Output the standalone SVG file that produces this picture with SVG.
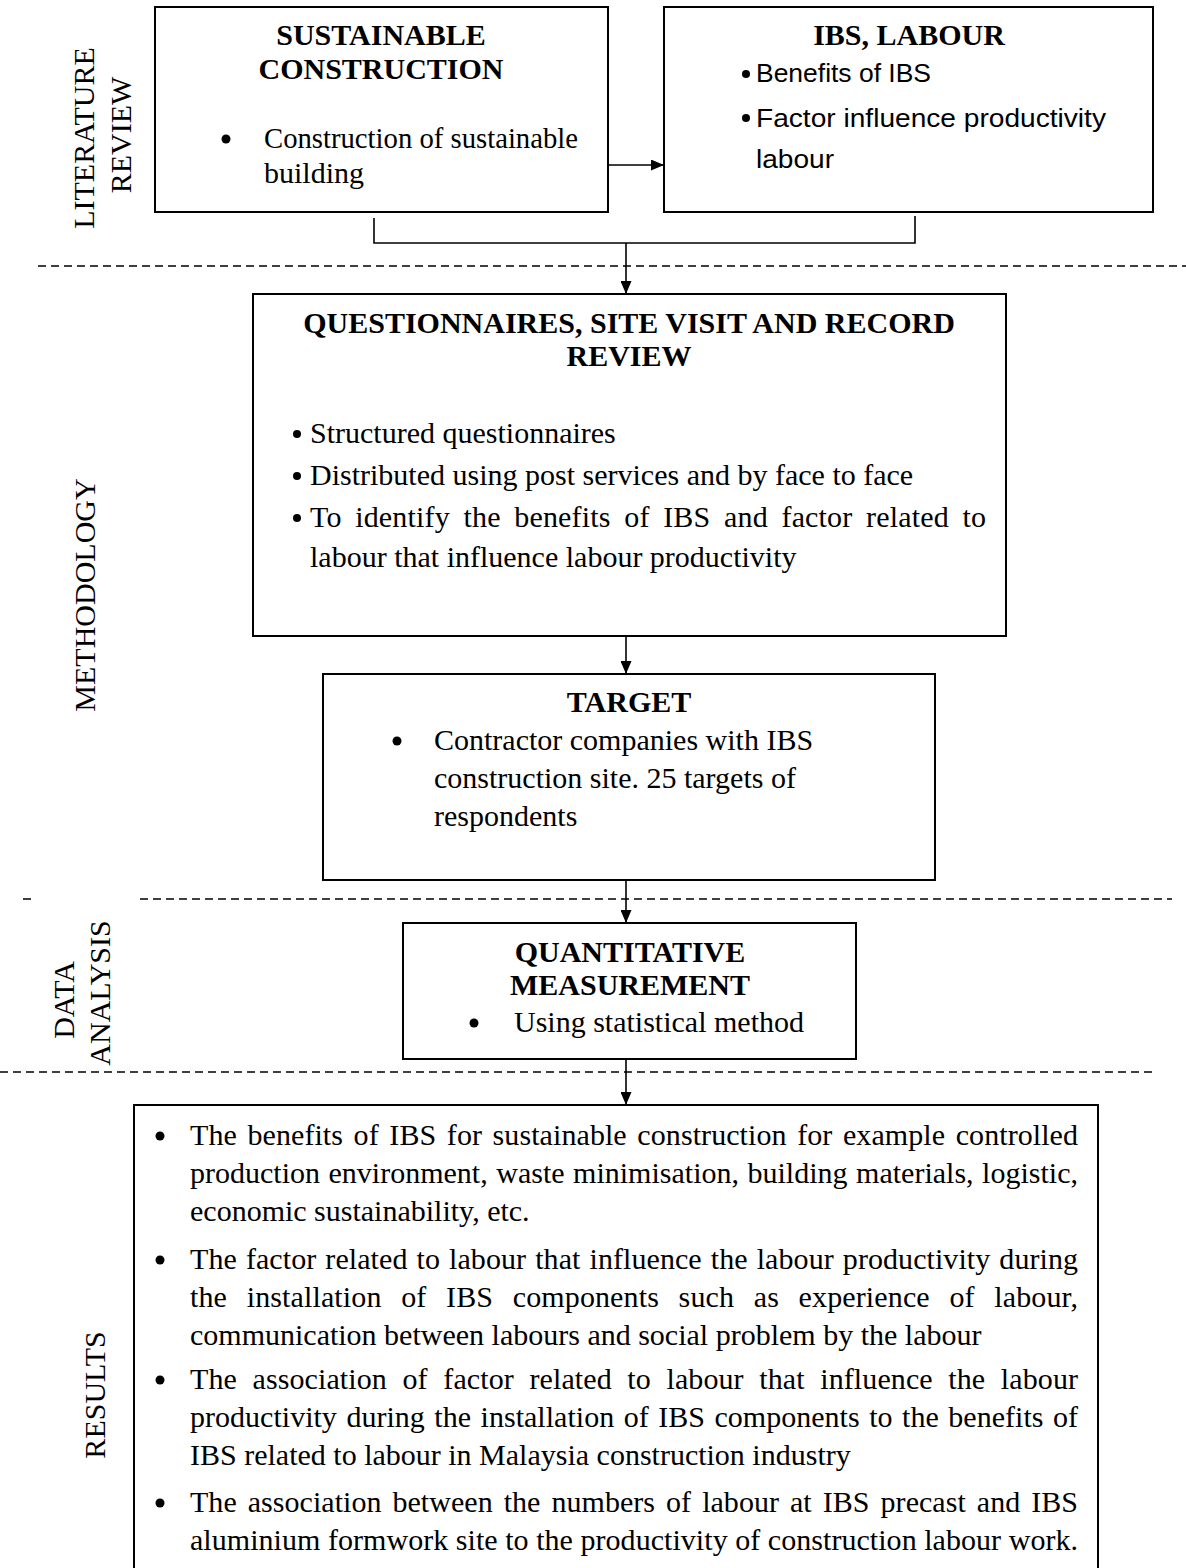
<svg xmlns="http://www.w3.org/2000/svg" width="1186" height="1568" viewBox="0 0 1186 1568">
<defs>
<style>
.box{fill:#fff;stroke:#000;stroke-width:2}
.t{font-family:"Liberation Serif","Times New Roman",serif;font-size:30px;fill:#000}
.b{font-weight:bold}
.s{font-family:"Liberation Sans",Arial,sans-serif;font-size:26px;fill:#000}
.m{text-anchor:middle}
.line{fill:none;stroke:#000;stroke-width:1.6}
.dash{fill:none;stroke:#000;stroke-width:1.5;stroke-dasharray:8 5}
.dot{fill:#000}
</style>
<marker id="ah" markerWidth="13" markerHeight="11" refX="13" refY="5.5" orient="auto" markerUnits="userSpaceOnUse">
<path d="M0,0 L13,5.5 L0,11 Z" fill="#000"/>
</marker>
</defs>
<rect width="1186" height="1568" fill="#fff"/>

<g id="section-labels">
<text class="t m" transform="translate(94,138) rotate(-90)">LITERATURE</text>
<text class="t m" transform="translate(131,135) rotate(-90)">REVIEW</text>
<text class="t m" transform="translate(95,595) rotate(-90)">METHODOLOGY</text>
<text class="t m" transform="translate(74,1000) rotate(-90)">DATA</text>
<text class="t m" transform="translate(110,993) rotate(-90)">ANALYSIS</text>
<text class="t m" transform="translate(105,1395) rotate(-90)">RESULTS</text>
</g>

<g id="dividers">
<line class="dash" x1="38" y1="266" x2="1186" y2="266"/>
<line class="dash" x1="23" y1="899" x2="31" y2="899"/>
<line class="dash" x1="140" y1="899" x2="1172" y2="899"/>
<line class="dash" x1="0" y1="1072" x2="1154" y2="1072"/>
</g>

<g id="node-sustainable">
<rect class="box" x="155" y="7" width="453" height="205"/>
<text class="t b m" x="381" y="45">SUSTAINABLE</text>
<text class="t b m" x="381" y="79">CONSTRUCTION</text>
<circle class="dot" cx="226" cy="139" r="4.5"/>
<text class="t" x="264" y="148" textLength="314" lengthAdjust="spacingAndGlyphs">Construction of sustainable</text>
<text class="t" x="264" y="183">building</text>
</g>

<g id="node-ibs-labour">
<rect class="box" x="664" y="7" width="489" height="205"/>
<text class="t b m" x="909" y="45">IBS, LABOUR</text>
<circle class="dot" cx="746" cy="74" r="4"/>
<text class="s" x="756" y="82" textLength="175" lengthAdjust="spacingAndGlyphs">Benefits of IBS</text>
<circle class="dot" cx="746" cy="118" r="4"/>
<text class="s" x="756" y="127" textLength="350" lengthAdjust="spacingAndGlyphs">Factor influence productivity</text>
<text class="s" x="756" y="168" textLength="78" lengthAdjust="spacingAndGlyphs">labour</text>
</g>

<g id="node-questionnaires">
<rect class="box" x="253" y="294" width="753" height="342"/>
<text class="t b m" x="629" y="333">QUESTIONNAIRES, SITE VISIT AND RECORD</text>
<text class="t b m" x="629" y="366">REVIEW</text>
<circle class="dot" cx="297" cy="434" r="4"/>
<text class="t" x="310" y="443">Structured questionnaires</text>
<circle class="dot" cx="297" cy="476" r="4"/>
<text class="t" x="310" y="485">Distributed using post services and by face to face</text>
<circle class="dot" cx="297" cy="518" r="4"/>
<text class="t" x="310" y="527" word-spacing="6" textLength="676" lengthAdjust="spacing">To identify the benefits of IBS and factor related to</text>
<text class="t" x="310" y="567">labour that influence labour productivity</text>
</g>

<g id="node-target">
<rect class="box" x="323" y="674" width="612" height="206"/>
<text class="t b m" x="629" y="712">TARGET</text>
<circle class="dot" cx="397" cy="741" r="4.5"/>
<text class="t" x="434" y="750">Contractor companies with IBS</text>
<text class="t" x="434" y="788">construction site. 25 targets of</text>
<text class="t" x="434" y="826">respondents</text>
</g>

<g id="node-quantitative">
<rect class="box" x="403" y="923" width="453" height="136"/>
<text class="t b m" x="630" y="962">QUANTITATIVE</text>
<text class="t b m" x="630" y="995">MEASUREMENT</text>
<circle class="dot" cx="474" cy="1023" r="4.5"/>
<text class="t" x="514" y="1032">Using statistical method</text>
</g>

<g id="node-results">
<path class="box" d="M134,1575 V1105 H1098 V1575"/>
<circle class="dot" cx="160" cy="1136" r="4.5"/>
<text class="t" x="190" y="1145" word-spacing="3" textLength="888" lengthAdjust="spacing">The benefits of IBS for sustainable construction for example controlled</text>
<text class="t" x="190" y="1183" word-spacing="1" textLength="888" lengthAdjust="spacing">production environment, waste minimisation, building materials, logistic,</text>
<text class="t" x="190" y="1221">economic sustainability, etc.</text>
<circle class="dot" cx="160" cy="1260" r="4.5"/>
<text class="t" x="190" y="1269" word-spacing="1.5" textLength="888" lengthAdjust="spacing">The factor related to labour that influence the labour productivity during</text>
<text class="t" x="190" y="1307" word-spacing="12" textLength="888" lengthAdjust="spacing">the installation of IBS components such as experience of labour,</text>
<text class="t" x="190" y="1345">communication between labours and social problem by the labour</text>
<circle class="dot" cx="160" cy="1380" r="4.5"/>
<text class="t" x="190" y="1389" word-spacing="8" textLength="888" lengthAdjust="spacing">The association of factor related to labour that influence the labour</text>
<text class="t" x="190" y="1427" word-spacing="2" textLength="888" lengthAdjust="spacing">productivity during the installation of IBS components to the benefits of</text>
<text class="t" x="190" y="1465">IBS related to labour in Malaysia construction industry</text>
<circle class="dot" cx="160" cy="1503" r="4.5"/>
<text class="t" x="190" y="1512" word-spacing="3.5" textLength="888" lengthAdjust="spacing">The association between the numbers of labour at IBS precast and IBS</text>
<text class="t" x="190" y="1550" textLength="888" lengthAdjust="spacing">aluminium formwork site to the productivity of construction labour work.</text>
</g>

<g id="connectors">
<line class="line" x1="608" y1="165" x2="664" y2="165" marker-end="url(#ah)"/>
<polyline class="line" points="374,218 374,243 915,243 915,216"/>
<line class="line" x1="626" y1="243" x2="626" y2="294" marker-end="url(#ah)"/>
<line class="line" x1="626" y1="636" x2="626" y2="674" marker-end="url(#ah)"/>
<line class="line" x1="626" y1="880" x2="626" y2="923" marker-end="url(#ah)"/>
<line class="line" x1="626" y1="1059" x2="626" y2="1105" marker-end="url(#ah)"/>
</g>
</svg>
